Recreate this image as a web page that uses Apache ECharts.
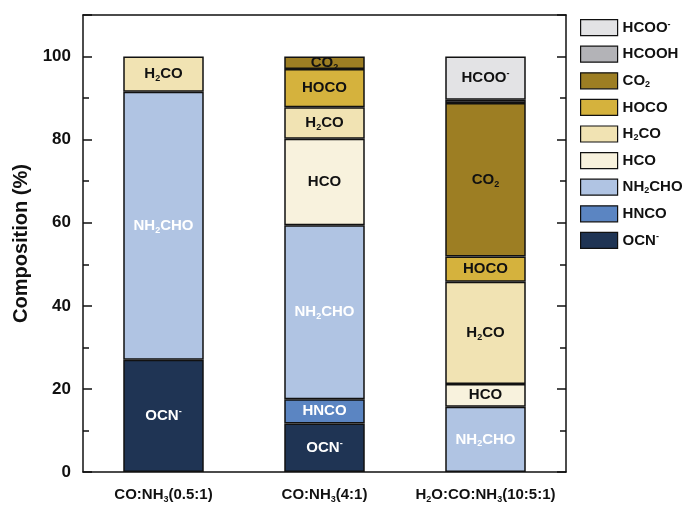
<!DOCTYPE html>
<html>
<head>
<meta charset="utf-8">
<script src="https://cdn.jsdelivr.net/npm/echarts@6/dist/echarts.min.js"></script>
<style>
  html, body { margin: 0; padding: 0; background: #fff; }
  #chart { width: 689px; height: 505px; }
</style>
</head>
<body>
<div id="chart"></div>
<script>
// Ice mixtures on the category axis
const categories = ['CO:NH3(0.5:1)', 'CO:NH3(4:1)', 'H2O:CO:NH3(10:5:1)'];
const categoryLabels = ['CO:NH{sub|3}(0.5:1)', 'CO:NH{sub|3}(4:1)', 'H{sub|2}O:CO:NH{sub|3}(10:5:1)'];

// Species, stacked from the bottom of each bar upward
const species = ['OCN-', 'HNCO', 'NH2CHO', 'HCO', 'H2CO', 'HOCO', 'CO2', 'HCOOH', 'HCOO-'];
const speciesLabels = ['OCN{sup|-}', 'HNCO', 'NH{sub|2}CHO', 'HCO', 'H{sub|2}CO', 'HOCO', 'CO{sub|2}', 'HCOOH', 'HCOO{sup|-}'];

// Composition (%) per mixture
const ocn    = [27.0, 11.7, 0];
const hnco   = [0, 5.8, 0];
const nh2cho = [64.5, 41.9, 15.7];
const hco    = [0, 20.8, 5.5];
const h2co   = [8.5, 7.6, 24.6];
const hoco   = [0, 9.2, 6.1];
const co2    = [0, 3.0, 36.9];
const hcooh  = [0, 0, 0.8];
const hcoo   = [0, 0, 10.4];
const seriesValues = [ocn, hnco, nh2cho, hco, h2co, hoco, co2, hcooh, hcoo];

// Y-axis tick labels
const yTicks = [0, 20, 40, 60, 80, 100];

const fills = ['#1f3454', '#5b85c2', '#b0c4e3', '#f8f2dd', '#f1e3b3', '#d5b23d', '#9d7e23', '#b3b3b7', '#e3e3e5'];
const labelColors = ['#fff', '#fff', '#fff', '#111', '#111', '#111', '#111', '#111', '#111'];
const showInBar = [true, true, true, true, true, true, true, false, true];

const FONT = '"Liberation Sans", Arial, sans-serif';

function richFor(color, size) {
  return {
    sub: { fontSize: Math.round(size * 0.6), fontWeight: 'bold', fontFamily: FONT, color: color, verticalAlign: 'bottom', lineHeight: 8 },
    sup: { fontSize: Math.round(size * 0.6), fontWeight: 'bold', fontFamily: FONT, color: color, verticalAlign: 'top', lineHeight: 8 }
  };
}

const series = species.map((name, i) => ({
  name: name,
  type: 'bar',
  stack: 'total',
  xAxisIndex: 0,
  yAxisIndex: 0,
  barWidth: '50%',
  data: seriesValues[i].map(v => (v === 0 ? '-' : v)),
  itemStyle: { color: fills[i], borderColor: '#111', borderWidth: 1.5 },
  label: {
    show: showInBar[i],
    position: 'inside',
    formatter: () => speciesLabels[i],
    fontSize: 15,
    fontWeight: 'bold',
    fontFamily: FONT,
    color: labelColors[i],
    lineHeight: 18,
    rich: richFor(labelColors[i], 15)
  },
  emphasis: { disabled: true }
}));

const legendNames = species.slice().reverse();
const legendText = {};
species.forEach((s, i) => { legendText[s] = speciesLabels[i]; });

const option = {
  animation: false,
  backgroundColor: '#fff',
  grid: { left: 83, right: 123, top: 15, bottom: 33 },
  legend: {
    orient: 'vertical',
    left: 575,
    top: 14,
    itemWidth: 37,
    itemHeight: 16,
    itemGap: 9.4,
    icon: 'rect',
    data: legendNames,
    formatter: name => legendText[name],
    itemStyle: { borderColor: '#111', borderWidth: 1.2 },
    textStyle: {
      fontSize: 15, fontWeight: 'bold', fontFamily: FONT, color: '#111', lineHeight: 16,
      rich: richFor('#111', 15)
    }
  },
  xAxis: [
    {
      type: 'category',
      position: 'bottom',
      data: categories,
      axisLine: { lineStyle: { color: '#111', width: 1.5 } },
      axisTick: { inside: true, alignWithLabel: true, length: 7, lineStyle: { color: '#111', width: 1.5 } },
      axisLabel: {
        interval: 0,
        hideOverlap: false,
        margin: 14,
        fontSize: 15, fontWeight: 'bold', fontFamily: FONT, color: '#111', lineHeight: 18,
        formatter: (v, idx) => categoryLabels[idx],
        rich: richFor('#111', 15)
      }
    },
    {
      type: 'category',
      position: 'bottom',
      data: categories,
      axisLine: { show: false },
      axisTick: { inside: true, interval: 0, length: 6, lineStyle: { color: '#111', width: 1.5 } },
      axisLabel: { show: false }
    },
    {
      type: 'category',
      position: 'top',
      data: categories,
      axisLine: { lineStyle: { color: '#111', width: 1.5 } },
      axisTick: { inside: true, interval: 0, alignWithLabel: true, length: 7, lineStyle: { color: '#111', width: 1.5 } },
      axisLabel: { show: false }
    }
  ],
  yAxis: [
    {
      type: 'value',
      position: 'left',
      min: 0,
      max: 110,
      interval: 20,
      name: 'Composition (%)',
      nameLocation: 'middle',
      nameGap: 51,
      nameTextStyle: { fontSize: 20, fontWeight: 'bold', fontFamily: FONT, color: '#111' },
      axisLine: { show: true, lineStyle: { color: '#111', width: 1.5 } },
      axisTick: { show: true, inside: true, length: 9, lineStyle: { color: '#111', width: 1.5 } },
      minorTick: { show: true, splitNumber: 2, length: 6, lineStyle: { color: '#111', width: 1.5 } },
      splitLine: { show: false },
      axisLabel: {
        margin: 12,
        fontSize: 17, fontWeight: 'bold', fontFamily: FONT, color: '#111',
        formatter: v => (yTicks.indexOf(v) >= 0 ? String(v) : '')
      }
    },
    {
      type: 'value',
      position: 'right',
      min: 0,
      max: 110,
      interval: 20,
      axisLine: { show: true, lineStyle: { color: '#111', width: 1.5 } },
      axisTick: { show: true, inside: true, length: 9, lineStyle: { color: '#111', width: 1.5 } },
      minorTick: { show: true, splitNumber: 2, length: 6, lineStyle: { color: '#111', width: 1.5 } },
      splitLine: { show: false },
      axisLabel: { show: false }
    }
  ],
  series: series
};

const chart = echarts.init(document.getElementById('chart'), null, { renderer: 'canvas' });
chart.setOption(option);
</script>
</body>
</html>
